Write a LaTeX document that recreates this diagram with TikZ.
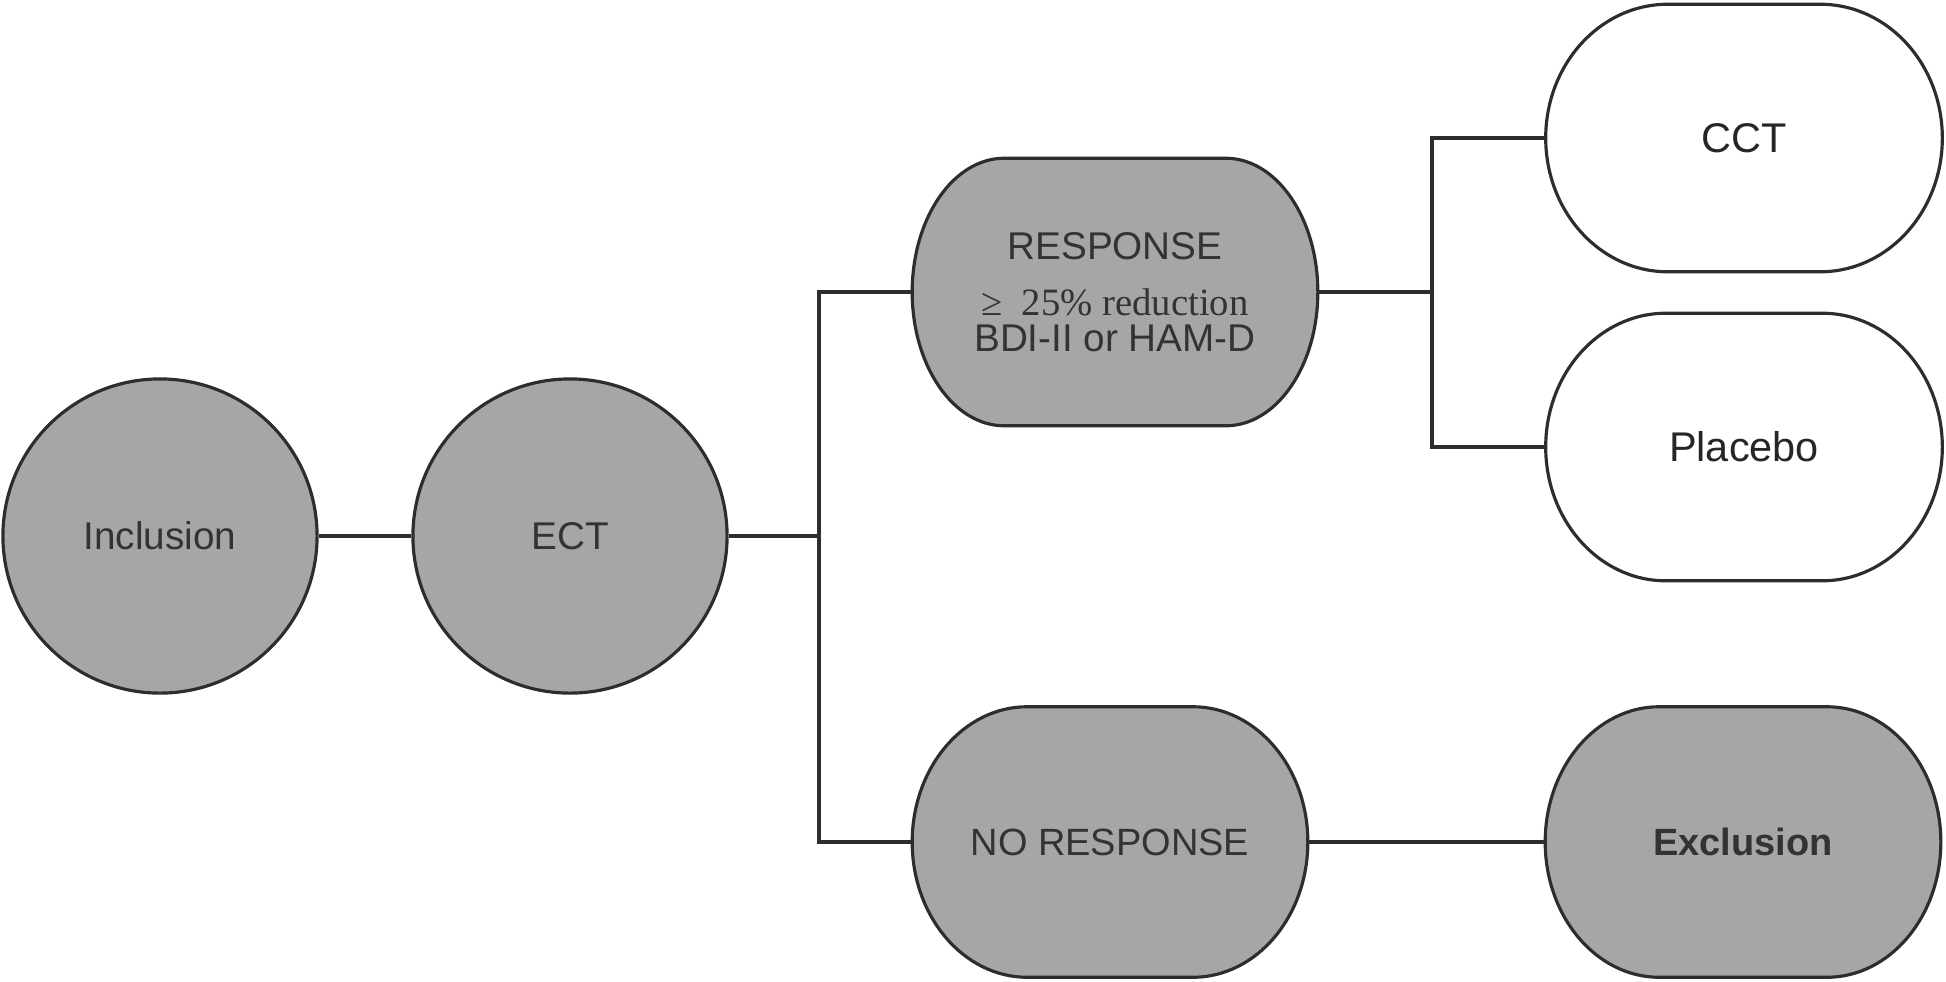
\documentclass[tikz,border=0pt]{standalone}
\usepackage{fontspec}
\setmainfont{Liberation Sans}
\newfontfamily\serifpart{Liberation Serif}
\usetikzlibrary{calc,backgrounds}

\definecolor{boxgray}{HTML}{A6A6A6}
\definecolor{edgegray}{HTML}{2D2D2D}
\definecolor{txtgray}{HTML}{333333}

% terminator outline round a named node: name, corner x radius, extra style
\newcommand{\termshape}[3]{%
  \begin{scope}[on background layer]
  \draw[draw=edgegray, line width=0.9pt, #3] let \p1=(#1.north east), \p2=(#1.south west) in
    (\x2+#2,\y1) -- (\x1-#2,\y1)
    arc[start angle=90, end angle=-90, x radius=#2, y radius={(\y1-\y2)/2}]
    -- (\x2+#2,\y2)
    arc[start angle=270, end angle=90, x radius=#2, y radius={(\y1-\y2)/2}] -- cycle;
  \end{scope}}

\begin{document}
\begin{tikzpicture}[x=0.01cm, y=-0.01cm,
    disc/.style={shape=circle, draw=edgegray, fill=boxgray, line width=0.9pt, minimum size=3.14cm, inner sep=0pt, text=txtgray, font=\fontsize{11}{13}\selectfont},
    term/.style={shape=rectangle, inner sep=0pt, minimum width=#1, minimum height=2.66cm, text=txtgray, font=\fontsize{11}{13}\selectfont},
    link/.style={draw=edgegray, line width=1.1pt}]
    \useasboundingbox (0,0) rectangle (1946,981);

    \node[disc] (incl) at (160,536) {Inclusion};
    \node[disc] (ect) at (570,536) {ECT};
    \node[term=4.04cm, align=center] (resp) at (1115,292) {RESPONSE\\[3pt]{\serifpart ≥\hspace{0.5em}25\% reduction}\\[-3pt]BDI-II or HAM-D};
    \node[term=3.94cm, minimum height=2.69cm, font=\fontsize{10.8}{13}\selectfont] (nores) at (1110,842) {NO RESPONSE};
    \node[term=3.95cm, text=black!85, font=\fontsize{11.8}{14}\selectfont] (cct) at (1744,138) {CCT};
    \node[term=3.95cm, text=black!85, font=\fontsize{11.8}{14}\selectfont] (plac) at (1744,447) {Placebo};
    \node[term=3.94cm, minimum height=2.69cm, font=\bfseries\fontsize{10.8}{13}\selectfont] (excl) at (1743,842) {Exclusion};

    \termshape{resp}{0.92cm}{fill=boxgray}
    \termshape{nores}{1.15cm}{fill=boxgray}
    \termshape{cct}{1.22cm}{fill=white}
    \termshape{plac}{1.2cm}{fill=white}
    \termshape{excl}{1.14cm}{fill=boxgray}

    \coordinate (j1) at (819,536);
    \coordinate (j2) at (1432,292);
    \draw[link] (incl) -- (ect);
    \draw[link] (ect.east) -- (j1);
    \draw[link] (resp.west) -| (j1) |- (nores.west);
    \draw[link] (resp.east) -- (j2);
    \draw[link] (cct.west) -| (j2) |- (plac.west);
    \draw[link] (nores) -- (excl);
\end{tikzpicture}
\end{document}
